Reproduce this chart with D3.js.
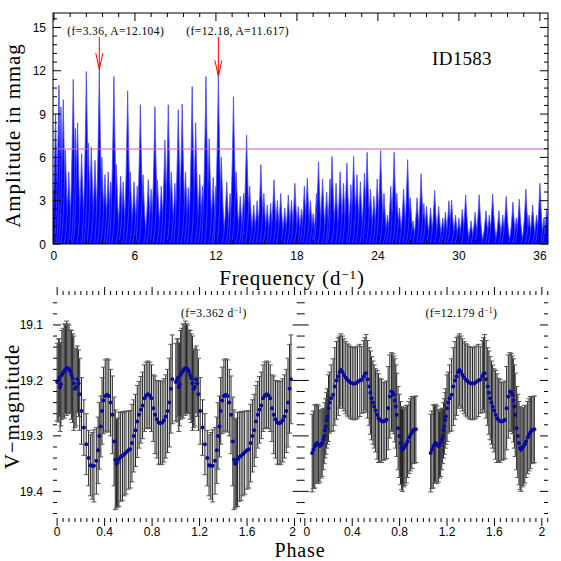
<!DOCTYPE html>
<html>
<head>
<script src="https://d3js.org/d3.v7.min.js"></script>
<style>
  body { margin: 0; background: #fff; }
  text { fill: #000; }
  .tick-label { font-family: "Liberation Sans", Arial, sans-serif; font-size: 12px; }
  .title { font-family: "Liberation Serif", "Times New Roman", serif; font-size: 21px; letter-spacing: 0.9px; }
  .note { font-family: "Liberation Serif", "Times New Roman", serif; font-size: 11.5px; letter-spacing: 0.4px; }
</style>
</head>
<body>
<svg id="canvas" width="561" height="561"></svg>
<script>
const svg = d3.select('#canvas');

// periodogram peaks: [frequency d^-1, amplitude mmag]
const peaks = [
  [0.12, 9.0], [0.37, 11.0], [0.52, 9.5], [0.69, 10.0], [0.85, 6.5], [1.1, 5.0], [1.43, 11.4],
  [1.6, 8.0], [1.75, 8.4], [2.05, 6.25], [2.4, 11.95], [2.55, 7.0], [2.77, 6.7], [3.04, 5.8],
  [3.36, 12.104], [3.55, 6.0], [3.78, 4.8], [4.02, 5.0], [4.2, 4.3], [4.44, 11.6], [4.62, 5.5],
  [4.94, 4.7], [5.13, 4.3], [5.46, 10.6], [5.65, 5.0], [5.93, 4.3], [6.17, 4.0], [6.4, 9.65],
  [6.6, 4.8], [6.99, 4.45], [7.2, 3.8], [7.48, 9.5], [7.67, 4.45], [7.95, 4.0], [8.22, 7.2],
  [8.47, 9.65], [8.7, 5.0], [8.96, 4.2], [9.21, 9.3], [9.5, 9.7], [9.75, 5.0], [9.95, 3.9],
  [10.24, 10.9], [10.5, 8.4], [10.8, 4.8], [11.0, 4.0], [11.26, 11.6], [11.5, 7.3], [11.8, 4.6],
  [12.0, 4.0], [12.18, 11.617], [12.4, 6.0], [12.8, 4.3], [13.05, 3.5], [13.3, 10.2], [13.5, 5.0],
  [13.8, 3.3], [14.05, 3.5], [14.27, 7.55], [14.5, 4.0], [14.8, 2.7], [15.05, 3.0], [15.33, 5.5],
  [15.55, 3.5], [15.8, 2.7], [16.05, 2.8], [16.3, 4.45], [16.55, 3.0], [16.8, 3.5], [17.1, 2.5],
  [17.36, 3.4], [17.6, 3.0], [17.85, 4.2], [18.1, 2.6], [18.33, 2.4], [18.55, 4.0], [18.77, 4.57],
  [19.0, 3.0], [19.2, 2.1], [19.45, 3.5], [19.6, 5.7], [19.9, 4.5], [20.2, 3.6], [20.45, 4.5],
  [20.6, 6.07], [20.9, 4.2], [21.2, 5.0], [21.45, 4.2], [21.7, 5.6], [22.0, 4.1], [22.2, 6.07],
  [22.45, 4.8], [22.7, 4.3], [23.0, 4.9], [23.2, 6.35], [23.45, 3.8], [23.7, 3.3], [23.95, 4.5],
  [24.2, 6.46], [24.45, 3.5], [24.7, 2.0], [24.95, 4.0], [25.2, 6.35], [25.4, 3.5], [25.6, 2.5],
  [25.9, 3.8], [26.2, 5.84], [26.4, 3.2], [26.6, 1.6], [26.9, 3.2], [27.2, 4.87], [27.4, 2.8],
  [27.6, 2.6], [27.9, 2.5], [28.2, 3.7], [28.5, 2.6], [28.8, 1.8], [29.0, 2.2], [29.26, 3.0],
  [29.46, 3.05], [29.75, 2.0], [30.0, 1.8], [30.25, 2.4], [30.5, 3.4], [30.9, 1.6], [31.2, 2.2],
  [31.5, 3.4], [32.0, 2.3], [32.25, 2.0], [32.5, 3.47], [32.96, 2.3], [33.25, 2.0], [33.5, 3.3],
  [34.0, 2.9], [34.25, 1.8], [34.47, 3.1], [34.96, 3.8], [35.2, 2.0], [35.46, 2.7], [35.75, 2.0],
  [36.0, 4.2], [36.3, 1.8], [36.5, 2.4]
];
const threshold = 6.58;
const marked = [
  { f: 3.36, a: 12.104, label: '(f=3.36, A=12.104)' },
  { f: 12.18, a: 11.617, label: '(f=12.18, A=11.617)' }
];
const freqTicks = [0, 6, 12, 18, 24, 30, 36];
const ampTicks = [0, 3, 6, 9, 12, 15];

// phased light curves: [phase, V mag, error]
const curve1 = [
  [0.000,19.203,0.07],[0.010,19.200,0.075],[0.018,19.195,0.07],[0.025,19.212,0.08],[0.032,19.207,0.075],
  [0.040,19.190,0.08],[0.050,19.186,0.08],[0.060,19.183,0.085],[0.070,19.180,0.08],[0.080,19.178,0.085],
  [0.090,19.178,0.08],[0.100,19.180,0.08],[0.110,19.184,0.075],[0.120,19.190,0.08],[0.130,19.196,0.08],
  [0.140,19.205,0.085],[0.150,19.215,0.07],[0.160,19.212,0.07],[0.170,19.198,0.06],[0.180,19.205,0.06],
  [0.190,19.225,0.065],[0.205,19.255,0.06],[0.225,19.285,0.05],[0.245,19.315,0.055],[0.265,19.340,0.05],
  [0.280,19.353,0.055],[0.295,19.354,0.06],[0.310,19.354,0.065],[0.330,19.345,0.06],[0.345,19.326,0.06],
  [0.355,19.300,0.06],[0.368,19.283,0.055],[0.378,19.255,0.06],[0.390,19.236,0.06],[0.405,19.228,0.065],
  [0.420,19.226,0.065],[0.435,19.228,0.065],[0.450,19.240,0.06],[0.465,19.262,0.07],[0.480,19.310,0.08],
  [0.490,19.343,0.09],[0.500,19.350,0.08],[0.510,19.348,0.08],[0.520,19.342,0.085],[0.535,19.338,0.08],
  [0.550,19.336,0.08],[0.565,19.333,0.075],[0.580,19.330,0.075],[0.600,19.326,0.07],[0.615,19.324,0.07],
  [0.630,19.313,0.07],[0.645,19.300,0.065],[0.660,19.290,0.065],[0.675,19.274,0.065],[0.690,19.262,0.06],
  [0.705,19.253,0.06],[0.720,19.245,0.06],[0.735,19.232,0.06],[0.750,19.227,0.06],[0.765,19.225,0.06],
  [0.780,19.227,0.06],[0.795,19.232,0.06],[0.810,19.250,0.06],[0.825,19.262,0.07],[0.840,19.270,0.07],
  [0.855,19.276,0.075],[0.870,19.277,0.075],[0.885,19.276,0.075],[0.900,19.272,0.075],[0.915,19.265,0.075],
  [0.930,19.255,0.075],[0.945,19.240,0.08],[0.958,19.215,0.08],[0.970,19.198,0.08]
];
const curve2 = [
  [0.062,19.331,0.07],[0.072,19.325,0.07],[0.084,19.319,0.075],[0.094,19.315,0.07],[0.104,19.313,0.07],
  [0.115,19.316,0.07],[0.127,19.318,0.065],[0.137,19.316,0.06],[0.146,19.313,0.06],[0.155,19.306,0.055],
  [0.163,19.300,0.05],[0.170,19.290,0.05],[0.177,19.283,0.05],[0.184,19.272,0.05],[0.190,19.265,0.05],
  [0.200,19.250,0.06],[0.210,19.240,0.055],[0.222,19.232,0.06],[0.239,19.226,0.065],[0.253,19.211,0.07],
  [0.267,19.200,0.07],[0.281,19.193,0.07],[0.293,19.185,0.065],[0.304,19.181,0.065],[0.318,19.185,0.065],
  [0.330,19.190,0.065],[0.345,19.195,0.065],[0.358,19.199,0.065],[0.372,19.201,0.065],[0.386,19.204,0.065],
  [0.400,19.205,0.065],[0.415,19.206,0.065],[0.430,19.205,0.065],[0.445,19.203,0.065],[0.464,19.200,0.065],
  [0.480,19.199,0.06],[0.497,19.193,0.065],[0.507,19.188,0.065],[0.517,19.187,0.07],[0.530,19.198,0.07],
  [0.543,19.211,0.07],[0.553,19.222,0.075],[0.563,19.232,0.075],[0.575,19.240,0.075],[0.585,19.247,0.075],
  [0.597,19.254,0.075],[0.610,19.262,0.08],[0.622,19.268,0.08],[0.633,19.271,0.075],[0.647,19.273,0.075],
  [0.661,19.274,0.07],[0.675,19.273,0.07],[0.689,19.271,0.07],[0.703,19.250,0.075],[0.717,19.229,0.075],
  [0.731,19.220,0.07],[0.742,19.222,0.07],[0.751,19.226,0.07],[0.760,19.236,0.075],[0.768,19.247,0.075],
  [0.775,19.262,0.075],[0.787,19.286,0.075],[0.797,19.300,0.075],[0.807,19.313,0.075],[0.816,19.322,0.075],
  [0.824,19.325,0.075],[0.834,19.322,0.07],[0.844,19.319,0.07],[0.856,19.315,0.07],[0.867,19.310,0.065],
  [0.880,19.303,0.065],[0.892,19.298,0.065],[0.903,19.294,0.065],[0.914,19.290,0.06],[0.926,19.289,0.06],
  [0.937,19.288,0.06]
];
const phaseTicks = [0, 0.4, 0.8, 1.2, 1.6, 2];
const magTicks = [19.1, 19.2, 19.3, 19.4];

// ---------- layout
const TOP = { l: 53, r: 548, t: 13, b: 244 };
const BOT = { t: 295, b: 518 };
const PANELS = [
  { l: 53, r: 300.7, data: curve1, label: '(f=3.362 d' },
  { l: 300.7, r: 548, data: curve2, label: '(f=12.179 d' }
];
const MAJOR = 8, MINOR = 4;

// PGPLOT-like box with inward ticks on all four sides
function box(g, x, y, xMinor, yMinor, xMajor, yMajor) {
  const [x0, x1] = x.range(), [y0, y1] = y.range();
  const ticksBetween = (d, step) => {
    const out = [];
    const a = Math.min(d[0], d[1]), b = Math.max(d[0], d[1]);
    for (let v = Math.ceil(a / step - 1e-6) * step; v <= b + 1e-9; v += step) out.push(+v.toFixed(6));
    return out;
  };
  const isMajor = (v, step) => Math.abs(v / step - Math.round(v / step)) < 1e-4;
  const t = g.append('g').attr('stroke', '#000').attr('stroke-width', 1);
  ticksBetween(x.domain(), xMinor).forEach(v => {
    const len = isMajor(v, xMajor) ? MAJOR : MINOR;
    const px = x(v);
    t.append('line').attr('x1', px).attr('x2', px).attr('y1', y0).attr('y2', y0 - len);
    t.append('line').attr('x1', px).attr('x2', px).attr('y1', y1).attr('y2', y1 + len);
  });
  ticksBetween(y.domain(), yMinor).forEach(v => {
    const len = isMajor(v, yMajor) ? MAJOR : MINOR;
    const py = y(v);
    t.append('line').attr('x1', x0).attr('x2', x0 + len).attr('y1', py).attr('y2', py);
    t.append('line').attr('x1', x1).attr('x2', x1 - len).attr('y1', py).attr('y2', py);
  });
  g.append('rect').attr('x', x0).attr('y', y1).attr('width', x1 - x0).attr('height', y0 - y1)
    .attr('fill', 'none').attr('stroke', '#000').attr('stroke-width', 1);
}

// ---------- top panel: periodogram
const xF = d3.scaleLinear().domain([-0.07, 36.6]).range([TOP.l, TOP.r]);
const yA = d3.scaleLinear().domain([0, 16]).range([TOP.b, TOP.t]);

const topG = svg.append('g');
svg.append('defs').append('clipPath').attr('id', 'topclip')
  .append('rect').attr('x', TOP.l).attr('y', TOP.t).attr('width', TOP.r - TOP.l).attr('height', TOP.b - TOP.t);

// each peak is drawn as a spike glyph, sharp at the top and broad at the base
const SPIKE_W = 0.4;
const spikeShape = [-1, -0.8, -0.6, -0.45, -0.3, -0.2, -0.1, 0, 0.1, 0.2, 0.3, 0.45, 0.6, 0.8, 1];
const spikeLine = d3.line().x(d => d[0]).y(d => d[1]);
topG.append('g').attr('clip-path', 'url(#topclip)')
  .selectAll('path').data(peaks).join('path')
  .attr('d', p => spikeLine(spikeShape.map(k => [xF(p[0] + k * SPIKE_W), yA(p[1] * Math.pow(1 - Math.abs(k), 2.3))])))
  .attr('fill', '#0000ff')
  .attr('stroke', '#4646ff')
  .attr('stroke-width', 0.8);

topG.append('line')
  .attr('x1', TOP.l).attr('x2', TOP.r).attr('y1', yA(threshold)).attr('y2', yA(threshold))
  .attr('stroke', '#c860c8').attr('stroke-width', 1);

box(topG, xF, yA, 1.2, 0.6, 6, 3);

topG.append('g').selectAll('text').data(freqTicks).join('text').attr('class', 'tick-label')
  .attr('x', d => xF(d)).attr('y', 260).attr('text-anchor', 'middle').text(d => d);
topG.append('g').selectAll('text').data(ampTicks).join('text').attr('class', 'tick-label')
  .attr('x', 46).attr('y', d => yA(d) + 4.5).attr('text-anchor', 'end').text(d => d);

// arrows to the two chosen peaks
const arrows = topG.append('g').attr('stroke', '#ff0000').attr('stroke-width', 1).attr('fill', 'none');
marked.forEach(m => {
  const px = xF(m.f), py = yA(m.a);
  arrows.append('line').attr('x1', px).attr('x2', px).attr('y1', 37).attr('y2', py);
  arrows.append('path').attr('d', `M${px - 3.5},${py - 16} L${px},${py} L${px + 3.5},${py - 16}`);
  topG.append('text').attr('class', 'note').attr('x', px - 32).attr('y', 34.5).text(m.label);
});

topG.append('text').attr('class', 'title').attr('x', 462).attr('y', 65)
  .attr('text-anchor', 'middle').style('font-size', '19px').style('letter-spacing', '0.3px').text('ID1583');

topG.append('text').attr('class', 'title')
  .attr('transform', `translate(20,${(TOP.t + TOP.b) / 2 + 7}) rotate(-90)`)
  .attr('text-anchor', 'middle').text('Amplitude in mmag');

const fl = topG.append('text').attr('class', 'title').attr('x', 292).attr('y', 285).attr('text-anchor', 'middle');
fl.append('tspan').text('Frequency (d');
fl.append('tspan').attr('dy', -6).style('font-size', '13px').text('−1');
fl.append('tspan').attr('dy', 6).text(')');

// ---------- bottom panels: phased light curves
const yM = d3.scaleLinear().domain([19.046, 19.448]).range([BOT.t, BOT.b]);

PANELS.forEach((p, i) => {
  const x = d3.scaleLinear().domain([-0.035, 2.052]).range([p.l, p.r]);
  const g = svg.append('g');
  const pts = p.data.flatMap(d => [d, [d[0] + 1, d[1], d[2]]]);

  const eb = g.append('g').attr('stroke-width', 1);
  eb.append('g').attr('stroke', '#222').selectAll('line').data(pts).join('line')
    .attr('x1', d => x(d[0])).attr('x2', d => x(d[0]))
    .attr('y1', d => yM(d[1] - d[2])).attr('y2', d => yM(d[1] + d[2]));
  eb.append('g').attr('stroke', '#555').selectAll('line').data(pts).join('line')
    .attr('x1', d => x(d[0]) - 2.5).attr('x2', d => x(d[0]) + 2.5)
    .attr('y1', d => yM(d[1] - d[2])).attr('y2', d => yM(d[1] - d[2]));
  eb.append('g').attr('stroke', '#555').selectAll('line').data(pts).join('line')
    .attr('x1', d => x(d[0]) - 2.5).attr('x2', d => x(d[0]) + 2.5)
    .attr('y1', d => yM(d[1] + d[2])).attr('y2', d => yM(d[1] + d[2]));

  g.append('g').selectAll('circle').data(pts).join('circle')
    .attr('cx', d => x(d[0])).attr('cy', d => yM(d[1])).attr('r', 2)
    .attr('fill', '#0a0aa0');

  box(g, x, yM, 0.05, 0.02, 0.4, 0.1);

  g.append('g').selectAll('text').data(phaseTicks).join('text').attr('class', 'tick-label')
    .attr('x', d => x(d) + (i === 0 && d === 2 ? -2 : 0) + (i === 1 && d === 0 ? 2 : 0))
    .attr('y', 536).attr('text-anchor', 'middle').text(d => d);
  if (i === 0) {
    g.append('g').selectAll('text').data(magTicks).join('text').attr('class', 'tick-label')
      .attr('x', 43).attr('y', d => yM(d) + 4.5).attr('text-anchor', 'end').text(d => d.toFixed(1));
  }

  const lt = g.append('text').attr('class', 'note').attr('x', (p.l + p.r) / 2 + 37).attr('y', 317)
    .attr('text-anchor', 'middle');
  lt.append('tspan').text(p.label);
  lt.append('tspan').attr('dy', -4).style('font-size', '7.5px').text('−1');
  lt.append('tspan').attr('dy', 4).text(')');
});

svg.append('text').attr('class', 'title')
  .attr('transform', `translate(19,${(BOT.t + BOT.b) / 2}) rotate(-90)`)
  .attr('text-anchor', 'middle').text('V−magnitude');
svg.append('text').attr('class', 'title').attr('x', 300).attr('y', 557)
  .style('font-size', '20px').attr('text-anchor', 'middle').text('Phase');
</script>
</body>
</html>
